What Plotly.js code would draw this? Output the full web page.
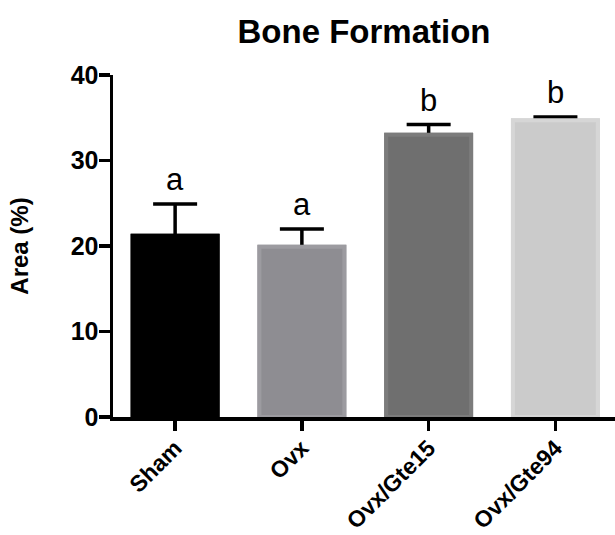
<!DOCTYPE html>
<html>
<head>
<meta charset="utf-8">
<script src="https://cdn.plot.ly/plotly-3.0.1.min.js"></script>
<style>html,body{margin:0;padding:0;background:#fff;}#chart{width:615px;height:535px;}</style>
</head>
<body>
<div id="chart"></div>
<script>
const categories = ["Sham", "Ovx", "Ovx/Gte15", "Ovx/Gte94"];
const meanValues = [21.2, 19.9, 33.0, 34.7];
const errorUp = [3.7, 2.1, 1.2, 0.4];
const groupLetters = ["a", "a", "b", "b"];
const fillColors = ["#000000", "#8e8d92", "#6f6f6f", "#cbcbcb"];
const edgeColors = ["#000000", "#9c9ba0", "#7c7c7c", "#d6d6d6"];
const yTicks = [0, 10, 20, 30, 40];

const FONT = "Liberation Sans, Arial, sans-serif";

// error bars (drawn first), then bars on top so only the upper whisker shows
const errTrace = {
  type: "bar",
  x: categories,
  y: meanValues,
  width: 0.67,
  marker: { color: fillColors, line: { color: edgeColors, width: 4 } },
  error_y: {
    type: "data", symmetric: false,
    array: errorUp, arrayminus: categories.map(() => 0),
    color: "#000", thickness: 3.5, width: 22
  },
  hoverinfo: "none"
};
const barTrace = {
  type: "bar",
  x: categories,
  y: meanValues,
  width: 0.67,
  marker: { color: fillColors, line: { color: edgeColors, width: 4 } },
  hoverinfo: "none"
};

const annotations = categories.map((c, i) => ({
  x: c, y: meanValues[i] + errorUp[i], xref: "x", yref: "y",
  text: groupLetters[i], showarrow: false, yanchor: "bottom", yshift: 5,
  font: { family: FONT, size: 31, color: "#000" }
}));

const layout = {
  width: 615, height: 535,
  margin: { l: 113, r: 0, t: 75, b: 118, pad: 0 },
  paper_bgcolor: "#fff", plot_bgcolor: "#fff",
  showlegend: false,
  barmode: "overlay",
  title: {
    text: "<b>Bone Formation</b>",
    font: { family: FONT, size: 33, color: "#000" },
    xref: "paper", x: 0.5, xanchor: "center",
    yref: "container", y: 1 - 31 / 535, yanchor: "middle"
  },
  xaxis: {
    type: "category",
    range: [-0.49, 3.47],
    showline: true, linecolor: "#000", linewidth: 3.5,
    ticks: "outside", ticklen: 10, tickwidth: 3.5, tickcolor: "#000",
    tickangle: -45,
    tickfont: { family: FONT, size: 23, color: "#000", weight: "bold" },
    ticklabelstandoff: -5,
    showgrid: false, zeroline: false, fixedrange: true
  },
  yaxis: {
    range: [0, 40],
    tickvals: yTicks, ticktext: yTicks.map(String),
    showline: true, linecolor: "#000", linewidth: 3.5,
    ticks: "outside", ticklen: 11, tickwidth: 3.5, tickcolor: "#000",
    tickfont: { family: FONT, size: 25, color: "#000", weight: "bold" },
    ticklabelstandoff: -5,
    showgrid: false, zeroline: false, fixedrange: true,
    title: { text: "<b>Area (%)</b>", font: { family: FONT, size: 24, color: "#000" }, standoff: 36 }
  },
  annotations: annotations
};

Plotly.newPlot("chart", [errTrace, barTrace], layout, { displayModeBar: false, staticPlot: true });
</script>
</body>
</html>
